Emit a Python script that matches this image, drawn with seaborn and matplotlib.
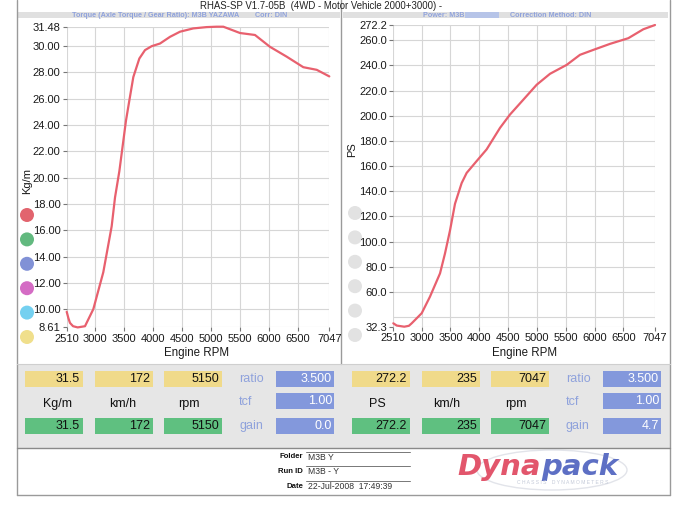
import numpy as np
import pandas as pd
import matplotlib
matplotlib.use("Agg")
import matplotlib.pyplot as plt
import seaborn as sns
from matplotlib.patches import Rectangle, Circle, Ellipse

sns.set_theme(style="white")
plt.rcParams['font.family'] = ['Liberation Sans', 'DejaVu Sans']

W, H = 700, 516

# ---------------- data ----------------
torque_rpm = [2510, 2540, 2567, 2620, 2700, 2826, 2970, 3142, 3287, 3345, 3420,
              3534, 3592, 3661, 3765, 3863, 3979, 4122, 4295, 4468, 4697, 4928,
              5102, 5216, 5504, 5763, 6022, 6311, 6598, 6830, 7047]
torque_kgm = [9.8, 9.3, 8.95, 8.7, 8.61, 8.7, 10.0, 12.8, 16.3, 18.5, 20.5,
              24.33, 25.86, 27.65, 29.06, 29.7, 30.0, 30.2, 30.71, 31.1, 31.35, 31.45,
              31.48, 31.48, 31.0, 30.85, 29.95, 29.2, 28.4, 28.2, 27.7]

power_rpm = [2510, 2570, 2700, 2780, 2829, 3002, 3146, 3320, 3406, 3493, 3580,
             3695, 3782, 3955, 4128, 4360, 4533, 4764, 4996, 5227, 5516, 5747,
             5977, 6267, 6584, 6844, 7047]
power_ps = [35.0, 33.2, 32.3, 33.0, 35.0, 43.0, 56.2, 74.7, 90.5, 108.8, 130.1,
            146.5, 154.6, 164.0, 173.3, 190.4, 201.0, 212.8, 224.7, 233.4, 240.5, 248.5,
            252.4, 257.2, 261.7, 268.8, 272.2]

rpm_ticks = [2510, 3000, 3500, 4000, 4500, 5000, 5500, 6000, 6500, 7047]
torque_ticks = [8.61, 10, 12, 14, 16, 18, 20, 22, 24, 26, 28, 30, 31.48]
torque_tick_labels = ["8.61", "10.00", "12.00", "14.00", "16.00", "18.00", "20.00",
                      "22.00", "24.00", "26.00", "28.00", "30.00", "31.48"]
power_ticks = [32.3, 60, 80, 100, 120, 140, 160, 180, 200, 220, 240, 260, 272.2]
power_tick_labels = ["32.3", "60.0", "80.0", "100.0", "120.0", "140.0", "160.0",
                     "180.0", "200.0", "220.0", "240.0", "260.0", "272.2"]

left_yellow = ["31.5", "172", "5150"]
left_units = ["Kg/m", "km/h", "rpm"]
left_green = ["31.5", "172", "5150"]
left_blue = ["3.500", "1.00", "0.0"]
right_yellow = ["272.2", "235", "7047"]
right_units = ["PS", "km/h", "rpm"]
right_green = ["272.2", "235", "7047"]
right_blue = ["3.500", "1.00", "4.7"]
param_names = ["ratio", "tcf", "gain"]

legend_colors = ["#e2646e", "#62b97f", "#8191d6", "#d46cc4", "#74d0f0", "#f0df8c"]

title = "RHAS-SP V1.7-05B  (4WD - Motor Vehicle 2000+3000) -"
folder_info = [("Folder", "M3B Y"), ("Run ID", "M3B - Y"), ("Date", "22-Jul-2008  17:49:39")]

# ---------------- figure ----------------
fig = plt.figure(figsize=(W / 100, H / 100), dpi=100)
fig.patch.set_facecolor("white")

bg = fig.add_axes([0, 0, 1, 1], zorder=0)
bg.set_xlim(0, W)
bg.set_ylim(H, 0)
bg.axis("off")

def px_axes(l, t, r, b):
    return fig.add_axes([l / W, 1 - b / H, (r - l) / W, (b - t) / H], zorder=2)

LINE = "#9a9a9a"
CURVE = "#e8606e"
BLUE_TXT = "#8fa2dc"

# frame lines
bg.plot([16.5, 16.5], [0, 495], color=LINE, lw=1)
bg.plot([340.5, 340.5], [0, 364], color=LINE, lw=1)
bg.plot([670, 670], [0, 495], color=LINE, lw=1)
bg.plot([16.5, 670], [495, 495], color=LINE, lw=1)

# header bands
bg.add_patch(Rectangle((17, 11.7), 323, 6.8, color="#e0e0e0", lw=0))
bg.add_patch(Rectangle((343, 11.7), 325, 6.8, color="#e0e0e0", lw=0))
bg.text(200, 6, title, fontsize=6.9, color="#222", va="center", ha="left")
bg.text(72, 15.2, "Torque (Axle Torque / Gear Ratio): M3B YAZAWA", fontsize=5.2,
        color=BLUE_TXT, fontweight="bold", va="center")
bg.text(255, 15.2, "Corr: DIN", fontsize=5.2, color=BLUE_TXT, fontweight="bold", va="center")
bg.text(423, 15.2, "Power: M3B", fontsize=5.2, color=BLUE_TXT, fontweight="bold", va="center")
bg.add_patch(Rectangle((465, 12.3), 34, 5.6, color="#b6c4e8", lw=0))
bg.text(510, 15.2, "Correction Method: DIN", fontsize=5.2, color=BLUE_TXT,
        fontweight="bold", va="center")

# ---------------- plots ----------------
def style(ax, yticks, ylabels):
    ax.set_facecolor("white")
    ax.set_xlim(rpm_ticks[0], rpm_ticks[-1])
    ax.set_ylim(yticks[0], yticks[-1])
    ax.set_xticks(rpm_ticks)
    ax.set_xticklabels([str(t) for t in rpm_ticks])
    ax.set_yticks(yticks)
    ax.set_yticklabels(ylabels)
    for s in ax.spines.values():
        s.set_visible(False)
    ax.grid(True, color="#d6d6d6", lw=0.8)
    ax.tick_params(axis="both", bottom=True, left=True, length=3, width=0.8,
                   color="#777", labelsize=8, labelcolor="#1a1a1a", pad=1.5)
    ax.set_xlabel("")
    ax.set_ylabel("")

axL = px_axes(66.7, 26.7, 329.3, 327.4)
dfT = pd.DataFrame({"rpm": torque_rpm, "kgm": torque_kgm})
sns.lineplot(data=dfT, x="rpm", y="kgm", ax=axL, color=CURVE, lw=1.6)
style(axL, torque_ticks, torque_tick_labels)
for l in axL.lines:
    l.set_clip_on(False)

axR = px_axes(393.3, 25, 655, 326.7)
dfP = pd.DataFrame({"rpm": power_rpm, "ps": power_ps})
sns.lineplot(data=dfP, x="rpm", y="ps", ax=axR, color=CURVE, lw=1.6)
style(axR, power_ticks, power_tick_labels)
axR.axhline(40, color="#d6d6d6", lw=0.8, zorder=0)
for l in axR.lines:
    if l.get_color() == CURVE:
        l.set_clip_on(False)

bg.text(196.7, 353, "Engine RPM", fontsize=8.3, color="#1a1a1a", ha="center", va="center")
bg.text(525, 353, "Engine RPM", fontsize=8.3, color="#1a1a1a", ha="center", va="center")
bg.text(27, 181, "Kg/m", fontsize=8, rotation=90, color="#1a1a1a", ha="center", va="center")
bg.text(352, 150, "PS", fontsize=8, rotation=90, color="#1a1a1a", ha="center", va="center")

# legend circles
for i, c in enumerate(legend_colors):
    bg.add_patch(Circle((27, 215 + i * 24.4), 7, color=c, lw=0))
    bg.add_patch(Circle((355, 213 + i * 24.4), 7, color="#e2e2e2", lw=0))

# ---------------- tables ----------------
YEL, GRN, BLU = "#f0da8a", "#5fc080", "#8398dc"
bg.add_patch(Rectangle((17, 364), 653, 84, color="#e6e6e6", lw=0))
bg.plot([17, 670], [448, 448], color="#8a8a8a", lw=1)
bg.plot([17, 670], [364, 364], color="#cfcfcf", lw=0.8)

def table(x0s, yel, units, grn, blu, name_x, blue_x, unit_xs):
    rows = [(370.5, 16), (393, 16), (417.5, 16)]
    for j, x0 in enumerate(x0s):
        bg.add_patch(Rectangle((x0, rows[0][0]), 58, rows[0][1], color=YEL, lw=0))
        bg.text(x0 + 55, rows[0][0] + 8.5, yel[j], fontsize=9, ha="right", va="center", color="#111")
        bg.add_patch(Rectangle((x0, rows[2][0]), 58, rows[2][1], color=GRN, lw=0))
        bg.text(x0 + 55, rows[2][0] + 8.5, grn[j], fontsize=9, ha="right", va="center", color="#111")
        bg.text(unit_xs[j], 404, units[j], fontsize=9, ha="center", va="center", color="#111")
    for k, (ry, rh) in enumerate(rows):
        bg.add_patch(Rectangle((blue_x, ry), 58, rh, color=BLU, lw=0))
        bg.text(blue_x + 56, ry + 8.5, blu[k], fontsize=9, ha="right", va="center", color="white")
        bg.text(name_x, ry + 9, param_names[k], fontsize=9, ha="left", va="center", color=BLUE_TXT)

table([25, 95, 164], left_yellow, left_units, left_green, left_blue, 239, 276, [57, 123, 189])
table([352, 422, 491], right_yellow, right_units, right_green, right_blue, 566, 603, [377, 447, 516])

# ---------------- footer ----------------
for i, (lab, val) in enumerate(folder_info):
    y = 457 + i * 14.8
    bg.text(303, y, lab, fontsize=5.6, fontweight="bold", ha="right", va="center", color="#111")
    bg.text(308, y, val, fontsize=6.2, ha="left", va="center", color="#333")
    bg.plot([306, 410], [y - 5.5, y - 5.5], color="#777", lw=0.7)

bg.add_patch(Ellipse((552, 470), 150, 40, fill=False, ec="#e2e4ea", lw=1))
bg.text(541, 467, "Dyna", fontsize=21, fontweight="bold", fontstyle="oblique",
        family="DejaVu Sans", color="#e2566c", ha="right", va="center")
bg.text(541, 467, "pack", fontsize=21, fontweight="bold", fontstyle="oblique",
        family="DejaVu Sans", color="#5d6fc4", ha="left", va="center")
bg.text(563, 482, "C H A S S I S    D Y N A M O M E T E R S", fontsize=3.6,
        color="#c4cad8", ha="center", va="center")

fig.savefig("out.png", dpi=100)
